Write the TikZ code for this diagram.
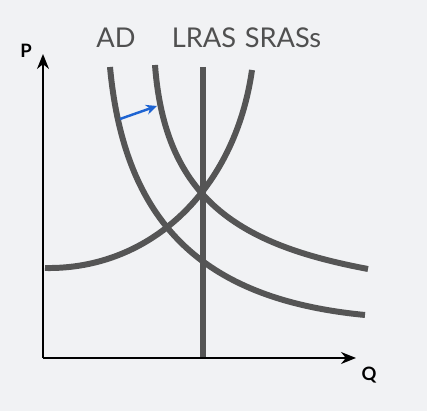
\documentclass[tikz,border=0pt]{standalone}
\usepackage{fontspec}
\setmainfont{Lato}
\setsansfont{Lato}
\usepackage{tikz}
\usetikzlibrary{arrows.meta, positioning, calc}
\definecolor{bggray}{RGB}{241,242,244}
\definecolor{curvegray}{RGB}{85,85,85}
\definecolor{labelgray}{RGB}{80,80,80}
\definecolor{shiftblue}{RGB}{30,100,210}
\tikzstyle{curve} = [draw=curvegray, line width=3.4pt]
\tikzstyle{axis} = [-{Stealth[length=3mm, width=2.4mm]}, line width=1.1pt, black]

\begin{document}
\begin{tikzpicture}[x=0.02cm, y=-0.02cm,
  curvelabel/.style={anchor=base, text=labelgray, font=\fontsize{15.5}{18}\selectfont},
  axislabel/.style={anchor=base, font=\fontsize{10.5}{12}\selectfont\bfseries},
  shiftarrow/.style={-{Stealth[length=2.2mm, width=2mm]}, line width=1.4pt, draw=shiftblue}]

  \fill[bggray] (0,0) rectangle (427,411);
  \useasboundingbox (0,0) rectangle (427,411);

  \coordinate (origin) at (43,358);
  \coordinate (ptip) at (43,54);
  \coordinate (qtip) at (356,358);

  \coordinate (ad1top) at (110,67);
  \coordinate (ad1end) at (365,315);
  \coordinate (ad2top) at (155,65);
  \coordinate (ad2end) at (368,269);
  \coordinate (srasleft) at (45,268);
  \coordinate (srastop) at (252,70);
  \coordinate (lrastop) at (203,67);
  \coordinate (lrasbot) at (203,358);
  \coordinate (shiftfrom) at (120,119);
  \coordinate (shiftto) at (157,106);

  \node[axislabel] (p) at (26,58) {P};
  \node[axislabel] (q) at (369,381) {Q};
  \node[curvelabel] (ad) at (116,48) {AD};
  \node[curvelabel] (lras) at (204,48) {LRAS};
  \node[curvelabel] (sras) at (283,48) {SRASs};

  \draw[curve] (lrastop) -- (lrasbot);
  \draw[curve] (ad1top) .. controls (125,230) and (210,300) .. (ad1end);
  \draw[curve] (ad2top) .. controls (165,200) and (240,245) .. (ad2end);
  \draw[curve] (srasleft) .. controls (150,270) and (235,190) .. (srastop);

  \draw[axis] (origin) -- (ptip);
  \draw[axis] (origin) -- (qtip);
  \draw[shiftarrow] (shiftfrom) -- (shiftto);
\end{tikzpicture}
\end{document}
